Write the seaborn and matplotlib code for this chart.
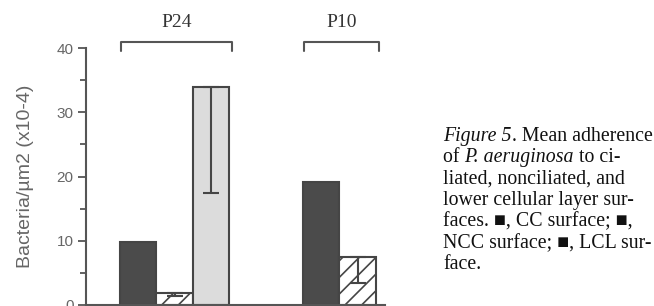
import numpy as np
import pandas as pd
import matplotlib
matplotlib.use("Agg")
import matplotlib.pyplot as plt
import seaborn as sns

# data (bacteria per um2, x10-4)
groups = ["P24", "P24", "P24", "P10", "P10"]
surfaces = ["CC", "NCC", "LCL", "CC", "NCC"]
positions = [0, 1, 2, 5, 6]
values = [9.8, 1.9, 34.0, 19.2, 7.5]
err_low = [np.nan, 0.5, 16.5, np.nan, 4.0]  # only lower error bars drawn
group_names = ["P24", "P10"]
yticks = [0, 10, 20, 30, 40]

df = pd.DataFrame({"group": groups, "surface": surfaces,
                   "pos": positions, "value": values, "err": err_low})

sns.set_style("ticks")
plt.rcParams["hatch.linewidth"] = 1.2

fig = plt.figure(figsize=(6.54, 3.06), dpi=100)
ax = fig.add_axes([86 / 654, 1 / 306, 299 / 654, 257 / 306])

palette = {"CC": "#4b4b4b", "NCC": "#ffffff", "LCL": "#dcdcdc"}
sns.barplot(data=df, x="pos", y="value", hue="surface", hue_order=["CC", "NCC", "LCL"],
            native_scale=True, dodge=False, width=1.0, palette=palette,
            edgecolor="#454545", linewidth=1.5, errorbar=None, legend=False,
            saturation=1, ax=ax)

# hatch the NCC bars
for bar in ax.containers[1]:
    bar.set_hatch("//")

# lower-only error bars
e = df.dropna(subset=["err"])
ax.errorbar(e["pos"], e["value"], yerr=[e["err"], np.zeros(len(e))], fmt="none",
            ecolor="#454545", elinewidth=1.5, capsize=6, capthick=1.5)

ax.set_xlim(-1.42, 6.75)
ax.set_ylim(0, 40)
ax.set_yticks(yticks)
ax.set_yticks(np.arange(5, 40, 10), minor=True)
ax.set_xticks([])
ax.set_xlabel("")
ax.tick_params(axis="y", which="major", length=6, width=1.3, color="#555555",
               labelsize=11, labelcolor="#666666", pad=3)
ax.tick_params(axis="y", which="minor", length=4, width=1.3, color="#555555")
for t in ax.get_yticklabels():
    t.set_fontfamily("Liberation Sans")
sns.despine(ax=ax, top=True, right=True)
ax.spines["left"].set_color("#555555")
ax.spines["left"].set_linewidth(1.5)
ax.spines["bottom"].set_color("#555555")
ax.spines["bottom"].set_linewidth(1.5)
ax.set_ylabel("Bacteria/µm2 (x10-4)", fontsize=14, color="#666666",
              family="Liberation Sans")
ax.yaxis.set_label_coords(-0.175, 0.5)

# group brackets above the bars
for g in group_names:
    p = df.loc[df["group"] == g, "pos"]
    left, right = p.min() - 0.45, p.max() + 0.58
    ax.plot([left, left, right, right], [39.5, 40.95, 40.95, 39.5], color="#555555",
            lw=1.5, clip_on=False)
    ax.text((left + right) / 2, 43.2, g, ha="center", va="baseline", fontsize=14,
            family="Liberation Serif", color="#333333", clip_on=False)

# caption at right, with italic segments
caption = [
    [("Figure 5", "italic"), (". Mean adherence", "normal")],
    [("of ", "normal"), ("P. aeruginosa", "italic"), (" to ci-", "normal")],
    [("liated, nonciliated, and", "normal")],
    [("lower cellular layer sur-", "normal")],
    [("faces. ■, CC surface; ■,", "normal")],
    [("NCC surface; ■, LCL sur-", "normal")],
    [("face.", "normal")],
]
fam = ["Liberation Serif", "DejaVu Serif"]
y0 = 141
for i, line in enumerate(caption):
    prev = None
    for seg, style in line:
        if prev is None:
            prev = fig.text(443 / 654, 1 - (y0 + i * 21.4) / 306, seg, ha="left",
                            va="baseline", fontsize=14.3, family=fam, style=style,
                            color="#111111")
        else:
            prev = ax.annotate(seg, xy=(1, 0), xycoords=prev, ha="left", va="bottom",
                               fontsize=14.3, family=fam, style=style, color="#111111",
                               annotation_clip=False)

fig.savefig("out.png", dpi=100)
